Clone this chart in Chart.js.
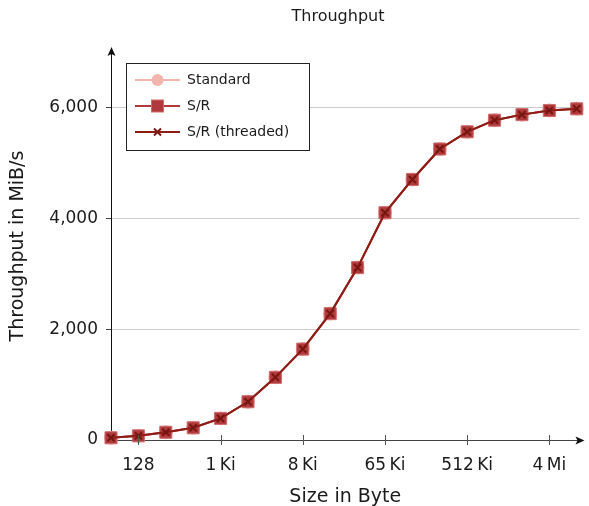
<!DOCTYPE html>
<html>
<head>
<meta charset="utf-8">
<script src="https://cdn.jsdelivr.net/npm/chart.js@4"></script>
<style>
  body { margin: 0; background: #fff; }
</style>
</head>
<body>
<canvas id="myChart" width="589" height="506"></canvas>
<script>
// message sizes in bytes (2^6 .. 2^23)
const sizes = [64, 128, 256, 512, 1024, 2048, 4096, 8192, 16384, 32768, 65536,
  131072, 262144, 524288, 1048576, 2097152, 4194304, 8388608];

// throughput in MiB/s
const standard = [40, 75, 140, 220, 390, 690, 1130, 1640, 2280, 3110, 4100, 4700, 5250, 5560, 5770, 5870, 5945, 5975];
const sendRecv = [40, 75, 140, 220, 390, 690, 1130, 1640, 2280, 3110, 4100, 4700, 5250, 5560, 5770, 5870, 5945, 5975];
const sendRecvThreaded = [40, 75, 140, 220, 390, 690, 1130, 1640, 2280, 3110, 4100, 4700, 5250, 5560, 5770, 5870, 5945, 5975];

// x ticks (in bytes) and their labels
const xTickSizes = [128, 1024, 8192, 65536, 524288, 4194304];
const xTickLabels = ["128", "1\u2009Ki", "8\u2009Ki", "65\u2009Ki", "512\u2009Ki", "4\u2009Mi"];
const yTicks = [0, 2000, 4000, 6000];

const FONT = "'DejaVu Sans', sans-serif";
const TEXT = "#1a1a1a";
const cxt = document.querySelector("#myChart");

function toPoints(values) {
  return values.map((v, i) => ({ x: Math.log2(sizes[i]), y: v }));
}

const legendItems = [
  { label: "Standard", line: "#f2b5ae", style: "circle", fill: "#f2b5ae", stroke: "#f2b5ae" },
  { label: "S/R", line: "#b0393b", style: "rect", fill: "#b0393b", stroke: "#cf6c6e" },
  { label: "S/R (threaded)", line: "#8c1c16", style: "cross", fill: "#7a1812", stroke: "#7a1812" },
];

// title, arrows, x tick marks and the legend box
const decorations = {
  id: "decorations",
  afterDraw(chart) {
    const c = chart.ctx;
    const area = chart.chartArea;
    const xs = chart.scales.x;
    c.save();

    c.fillStyle = TEXT;
    c.font = "16px " + FONT;
    c.textAlign = "center";
    c.textBaseline = "middle";
    c.fillText("Throughput", 338, 17);

    c.strokeStyle = "#555";
    c.lineWidth = 1;
    xTickSizes.forEach((s) => {
      const px = Math.round(xs.getPixelForValue(Math.log2(s))) + 0.5;
      c.beginPath();
      c.moveTo(px, area.bottom - 5);
      c.lineTo(px, area.bottom + 5);
      c.stroke();
    });

    // arrow heads
    c.fillStyle = "#111";
    const ax = area.left + 0.5;
    c.beginPath();
    c.moveTo(ax, area.top - 5);
    c.lineTo(ax - 4, area.top + 4);
    c.lineTo(ax, area.top + 2);
    c.lineTo(ax + 4, area.top + 4);
    c.closePath();
    c.fill();
    const ay = area.bottom + 0.5;
    c.beginPath();
    c.moveTo(area.right + 5, ay);
    c.lineTo(area.right - 4, ay - 4);
    c.lineTo(area.right - 2, ay);
    c.lineTo(area.right - 4, ay + 4);
    c.closePath();
    c.fill();

    // legend
    c.fillStyle = "#fff";
    c.fillRect(126, 63, 183, 87);
    c.strokeStyle = "#222";
    c.lineWidth = 1;
    c.strokeRect(126.5, 63.5, 183, 87);
    c.font = "14px " + FONT;
    c.textAlign = "left";
    legendItems.forEach((it, i) => {
      const y = 80 + i * 26;
      c.strokeStyle = it.line;
      c.lineWidth = 2;
      c.beginPath();
      c.moveTo(135, y);
      c.lineTo(180, y);
      c.stroke();
      if (it.style === "circle") {
        c.fillStyle = it.fill;
        c.beginPath();
        c.arc(157.5, y, 6, 0, Math.PI * 2);
        c.fill();
      } else if (it.style === "rect") {
        c.fillStyle = it.fill;
        c.fillRect(151.5, y - 6, 12, 12);
        c.strokeStyle = it.stroke;
        c.lineWidth = 1;
        c.strokeRect(151.5, y - 6, 12, 12);
      } else {
        c.strokeStyle = it.stroke;
        c.lineWidth = 2;
        c.beginPath();
        c.moveTo(154, y - 3.5);
        c.lineTo(161, y + 3.5);
        c.moveTo(161, y - 3.5);
        c.lineTo(154, y + 3.5);
        c.stroke();
      }
      c.fillStyle = TEXT;
      c.fillText(it.label, 187, y);
    });
    c.restore();
  },
};

const config = {
  type: "line",
  data: {
    datasets: [
      {
        label: "S/R (threaded)",
        data: toPoints(sendRecvThreaded),
        borderColor: "#8c1c16",
        borderWidth: 2,
        pointStyle: "crossRot",
        pointRadius: 5,
        pointBorderWidth: 2,
        pointBorderColor: "#761610",
        pointBackgroundColor: "#761610",
        clip: false,
        order: 0,
      },
      {
        label: "S/R",
        data: toPoints(sendRecv),
        borderColor: "#b0393b",
        borderWidth: 2,
        pointStyle: "rect",
        pointRadius: 8.5,
        pointBorderWidth: 1,
        pointBorderColor: "#cf6c6e",
        pointBackgroundColor: "#b0393b",
        clip: false,
        order: 1,
      },
      {
        label: "Standard",
        data: toPoints(standard),
        borderColor: "#f2b5ae",
        borderWidth: 2,
        pointStyle: "circle",
        pointRadius: 6,
        pointBackgroundColor: "#f2b5ae",
        pointBorderColor: "#f2b5ae",
        clip: false,
        order: 2,
      },
    ],
  },
  options: {
    responsive: false,
    animation: false,
    devicePixelRatio: 1,
    layout: { padding: { top: 52, right: 6, left: 0, bottom: 0 } },
    plugins: {
      legend: { display: false },
      tooltip: { enabled: false },
    },
    scales: {
      x: {
        type: "linear",
        min: 6,
        max: 23.1,
        afterFit: (scale) => { scale.height = 66; },
        afterBuildTicks: (scale) => {
          scale.ticks = xTickSizes.map((s) => ({ value: Math.log2(s) }));
        },
        grid: { display: false },
        border: { display: true, color: "#444", width: 1 },
        ticks: {
          padding: 7,
          autoSkip: false,
          maxRotation: 0,
          color: TEXT,
          font: { family: FONT, size: 17 },
          callback: (v, i) => xTickLabels[i],
        },
        title: {
          display: true,
          text: "Size in Byte",
          color: TEXT,
          font: { family: FONT, size: 19 },
          padding: { top: 0, bottom: -2 },
        },
      },
      y: {
        min: 0,
        max: 7000,
        afterFit: (scale) => { scale.width = 111; },
        afterBuildTicks: (scale) => {
          scale.ticks = yTicks.map((v) => ({ value: v }));
        },
        grid: {
          color: (ctx) => (ctx.tick && ctx.tick.value === 0 ? "rgba(0,0,0,0)" : "#cccccc"),
          tickColor: "#444",
          tickLength: 5,
        },
        border: { display: true, color: "#111", width: 1 },
        ticks: {
          padding: 8,
          color: TEXT,
          font: { family: FONT, size: 17 },
          callback: (v) => v.toLocaleString("en-US"),
        },
        title: {
          display: true,
          text: "Throughput in MiB/s",
          color: TEXT,
          font: { family: FONT, size: 19 },
          padding: { top: 7, bottom: 0 },
        },
      },
    },
  },
  plugins: [decorations],
};

new Chart(cxt, config);
</script>
</body>
</html>
